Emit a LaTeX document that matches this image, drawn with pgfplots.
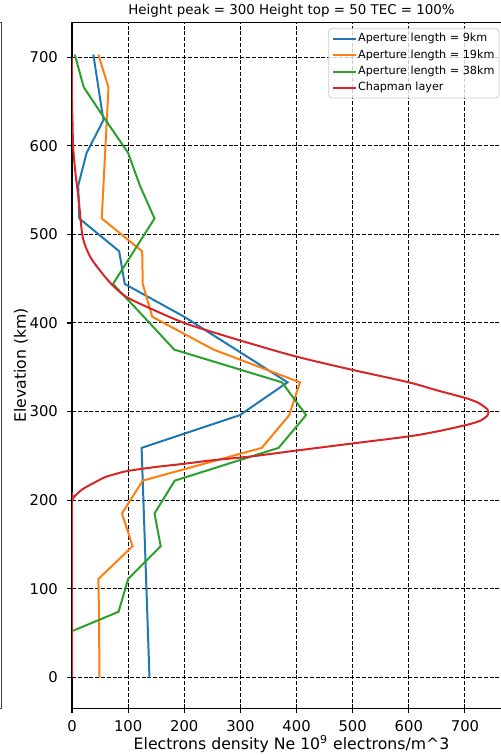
\documentclass[border=0pt]{standalone}
\usepackage{fontspec}
\setmainfont{DejaVu Sans}
\usepackage{pgfplots}
\usepackage{pgfplotstable}
\pgfplotsset{compat=1.18}
\definecolor{tabblue}{HTML}{1F77B4}
\definecolor{taborange}{HTML}{FF7F0E}
\definecolor{tabgreen}{HTML}{2CA02C}
\definecolor{tabred}{HTML}{D62728}

\pgfplotstableread{
h b o g
0 138 49 -100
37 136 48.5 -57
74 134 48 83
111 132 47 100
148 130 108 158
185 128 89 147
222 126 126 183
259 124 338 368
296 299 387 417
333 384 406 374
370 292 252 182
407 200 143 128
444 94 126 73
481 84 125 110
518 13 53 147
555 11 56 121
592 26 59 100
629 56 62 60
666 47 65 21
703 38 47 5
}\apert

\pgfplotstableread{
x h
0 0
0 195
1 201
4 204
9 207
18 212
30 216.5
45 221.5
59 226
80 230
100 233
150 237.5
199 241
250 245
321 249.5
400 256
500 264
600 272
650 277.5
700 284.5
720 288
730 290.5
740 295.5
742 299
740 302.5
730 307.5
720 311
700 315.5
650 324
600 333
500 347
400 362
317 377
249 390
200 400
148 414
98 429
75 441
59 452
36 471
25 485
18 501
12 539
6 570
2 599
1 625
0 650
0 700
}\chap

\begin{document}
\begin{tikzpicture}
\begin{axis}[
  at={(0,0)}, anchor=south west,
  scale only axis, width=219.5pt, height=342.8pt,
  xmin=0, xmax=782, ymin=-35, ymax=739,
  xtick={0,100,...,700}, ytick={0,100,...,700},
  grid=major,
  major grid style={black, line width=0.5pt, dash pattern=on 2pt off 0.9pt},
  axis line style={black, line width=0.53pt},
  tick style={black, line width=0.53pt},
  major tick length=2.35pt, tick align=outside,
  xtick pos=left, ytick pos=left,
  /pgf/number format/assume math mode=true,
  tick label style={font=\fontsize{7.4}{8.9}\selectfont},
  xticklabel style={anchor=base, inner sep=0pt, yshift=-9.25pt},
  yticklabel style={anchor=east, inner sep=0pt, xshift=-4.5pt},
  xlabel={Electrons density Ne 10\textsuperscript{9} electrons/m\^{}3},
  ylabel={Elevation (km)},
  label style={font=\fontsize{7.85}{9.4}\selectfont},
  xlabel style={at={(axis description cs:0.5,0)}, anchor=base, yshift=-20.6pt},
  ylabel style={at={(axis description cs:-0.1048,0.5)}, anchor=base},
  title={Height peak = 300 Height top = 50 TEC = 100\%},
  every axis title shift=0pt,
  title style={at={(axis description cs:0.5,1)}, anchor=base, yshift=3.95pt, font=\fontsize{6.7}{8}\selectfont},
  legend cell align=left,
  legend image code/.code={\draw[#1, line width=1pt] (0pt,0pt) -- (11.5pt,0pt);},
  legend style={
    at={(0.5838,0.9918)}, anchor=north west,
    font=\fontsize{5.6}{6.7}\selectfont,
    draw=black!20, fill=white, fill opacity=0.8, draw opacity=1, text opacity=1,
    rounded corners=1.5pt, inner sep=1.8pt, row sep=1.8pt,
    nodes={inner sep=0.4pt, text height=4.3pt, text depth=1.3pt},
    /tikz/every even column/.append style={column sep=4.3pt},
  },
  every axis plot/.append style={line width=1pt},
]
\addplot[tabblue] table[x=b, y=h] {\apert};
\addlegendentry{Aperture length = 9km}
\addplot[taborange] table[x=o, y=h] {\apert};
\addlegendentry{Aperture length = 19km}
\addplot[tabgreen] table[x=g, y=h] {\apert};
\addlegendentry{Aperture length = 38km}
\addplot[tabred, smooth, tension=0.5] table[x=x, y=h] {\chap};
\addlegendentry{Chapman layer}
\end{axis}
\draw[black!75, line width=0.53pt] (-60pt,0pt) rectangle (-35.25pt,342.8pt);
\pgfresetboundingbox
\path[use as bounding box] (-36pt,-23.35pt) rectangle (214.5pt,354.15pt);
\end{tikzpicture}
\end{document}
